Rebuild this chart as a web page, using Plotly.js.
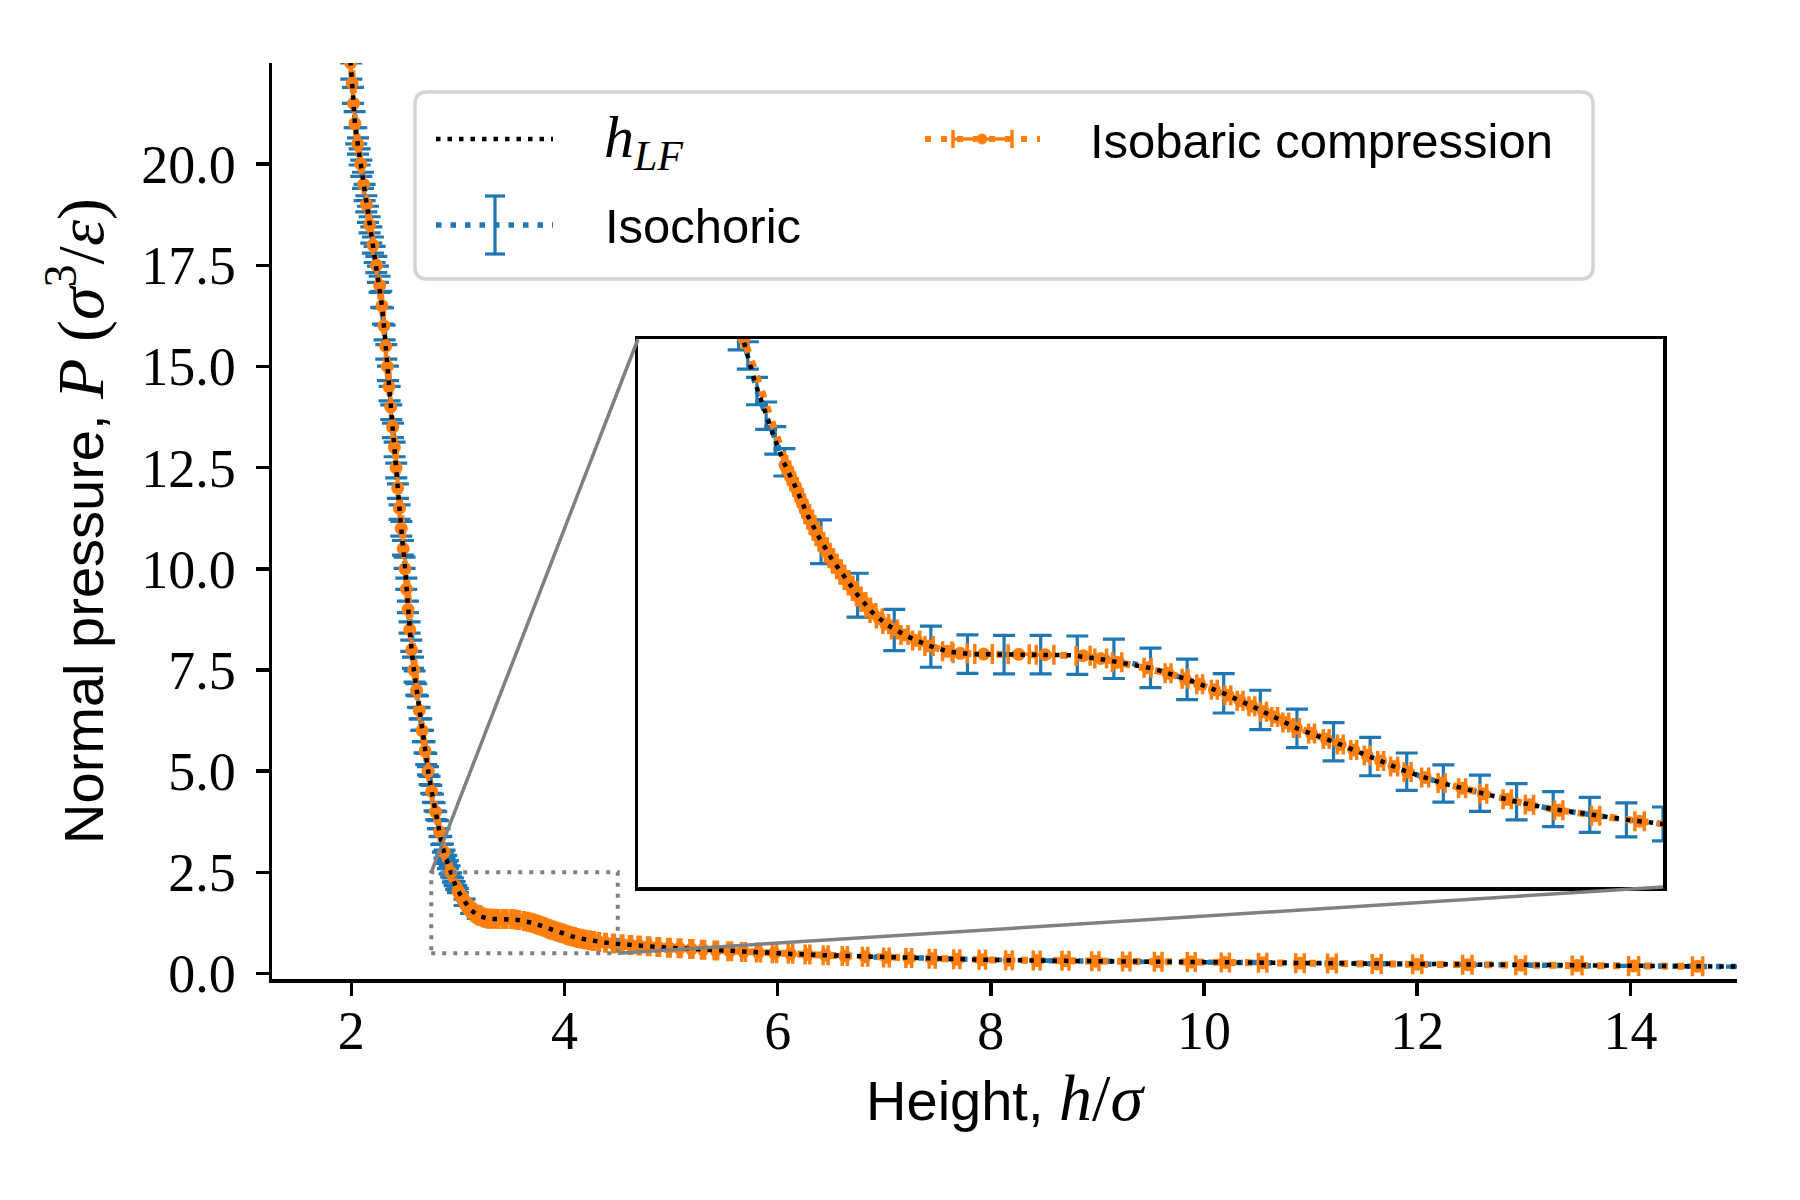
<!DOCTYPE html>
<html>
<head>
<meta charset="utf-8">
<script src="https://cdn.plot.ly/plotly-3.0.1.min.js"></script>
<style>
  html, body { margin: 0; padding: 0; background: white; }
  #plot { width: 1800px; height: 1200px; }
</style>
</head>
<body>
<div id="plot"></div>
<script>
// h_LF reference curve
const hLF = [1.97, 1.99, 2.00, 2.02, 2.035, 2.06, 2.08, 2.11, 2.14, 2.17, 2.20, 2.23, 2.26, 2.29, 2.32,
  2.35, 2.38, 2.41, 2.44, 2.47, 2.50, 2.52, 2.54, 2.56, 2.58, 2.60, 2.625, 2.65, 2.675, 2.70, 2.725,
  2.75, 2.775, 2.80, 2.825, 2.85, 2.875, 2.90, 2.92, 2.935, 2.95, 2.965, 2.98, 3.00, 3.02, 3.04, 3.06,
  3.08, 3.10, 3.125, 3.15, 3.175, 3.21, 3.245, 3.28, 3.32, 3.40, 3.49, 3.545, 3.59, 3.63, 3.69, 3.75,
  3.81, 3.875, 3.94, 4.00, 4.06, 4.125, 4.19, 4.25, 4.31, 4.375, 4.44, 4.50, 4.75, 5.0, 5.5, 6.0, 6.5,
  7.0, 7.5, 8.0, 9.0, 10.0, 11.0, 12.0, 13.0, 14.0, 15.0];
const pLF = [23.4, 22.65, 22.3, 21.55, 20.95, 20.5, 20.15, 19.6, 19.05, 18.53, 18.05, 17.6, 17.12, 16.45, 15.6,
  14.6, 13.72, 12.82, 11.82, 10.95, 10.15, 9.4, 8.75, 8.15, 7.63, 7.24, 6.73, 6.28, 5.82, 5.36, 4.93,
  4.55, 4.2, 3.86, 3.52, 3.2, 2.95, 2.74, 2.57, 2.455, 2.34, 2.245, 2.155, 2.045, 1.955, 1.855, 1.772,
  1.70, 1.637, 1.565, 1.502, 1.457, 1.414, 1.382, 1.359, 1.35, 1.348, 1.346, 1.33, 1.311, 1.297, 1.256, 1.207,
  1.148, 1.079, 1.028, 0.976, 0.923, 0.878, 0.842, 0.811, 0.785, 0.763, 0.745, 0.730, 0.68, 0.635, 0.556, 0.50, 0.445,
  0.40, 0.362, 0.335, 0.303, 0.28, 0.25, 0.227, 0.205, 0.187, 0.17];

// Isochoric runs (with pressure error bars)
const hIsoDense = [2.0, 2.015625, 2.03125, 2.046875, 2.0625, 2.078125, 2.09375, 2.109375, 2.125, 2.140625,
  2.15625, 2.171875, 2.1875, 2.203125, 2.21875, 2.234375, 2.25, 2.265625, 2.28125, 2.296875, 2.3125,
  2.328125, 2.34375, 2.359375, 2.375, 2.390625, 2.40625, 2.421875, 2.4375, 2.453125, 2.46875, 2.484375,
  2.5, 2.515625, 2.53125, 2.546875, 2.5625, 2.578125, 2.59375, 2.609375, 2.625, 2.640625, 2.65625,
  2.671875, 2.6875, 2.703125, 2.71875, 2.734375, 2.75, 2.765625, 2.78125, 2.796875, 2.8125, 2.828125,
  2.84375, 2.859375, 2.875, 2.890625, 2.90625, 2.921875, 2.9375, 2.953125, 2.96875, 2.984375, 3.0];
const pIsoDense = [22.3, 21.7, 21.1, 20.7, 20.45, 20.18, 19.9, 19.6, 19.3, 19.02,
  18.76, 18.5, 18.25, 18.0, 17.77, 17.52, 17.28, 17.03, 16.66, 16.25, 15.84,
  15.36, 14.83, 14.33, 13.87, 13.42, 12.95, 12.43, 11.92, 11.4, 10.99, 10.52,
  10.15, 9.63, 9.06, 8.55, 8.1, 7.68, 7.34, 7.02, 6.72, 6.43, 6.15,
  5.87, 5.59, 5.3, 5.01, 4.77, 4.55, 4.33, 4.12, 3.9, 3.68, 3.48,
  3.29, 3.1, 2.95, 2.82, 2.69, 2.56, 2.44, 2.31, 2.22, 2.13, 2.05];
const errIsoDense = [0.2, 0.2, 0.2, 0.2, 0.2, 0.2, 0.2, 0.2, 0.2, 0.2,
  0.2, 0.2, 0.2, 0.2, 0.2, 0.2, 0.2, 0.2, 0.2, 0.2, 0.18,
  0.18, 0.18, 0.18, 0.18, 0.18, 0.18, 0.18, 0.18, 0.18, 0.18, 0.18,
  0.14, 0.14, 0.14, 0.14, 0.14, 0.14, 0.14, 0.14, 0.14, 0.14, 0.14,
  0.14, 0.14, 0.14, 0.1, 0.1, 0.1, 0.1, 0.1, 0.1, 0.1, 0.1,
  0.1, 0.1, 0.1, 0.1, 0.1, 0.1, 0.05, 0.05, 0.05, 0.05, 0.05];

const hIsoMid = [3.0625, 3.125, 3.1875, 3.25, 3.3125, 3.375, 3.4375, 3.5, 3.5625, 3.625, 3.6875, 3.75,
  3.8125, 3.875, 3.9375, 4.0, 4.0625, 4.125, 4.1875, 4.25, 4.3125, 4.375, 4.4375, 4.5];
const pIsoMid = [1.76, 1.565, 1.438, 1.377, 1.35, 1.348, 1.348, 1.346, 1.333, 1.30, 1.258, 1.207,
  1.146, 1.079, 1.03, 0.976, 0.921, 0.878, 0.842, 0.811, 0.784, 0.763, 0.745, 0.73];
const errIsoMid = [0.08, 0.08, 0.075, 0.075, 0.07, 0.07, 0.07, 0.07, 0.072, 0.072, 0.074, 0.072,
  0.072, 0.07, 0.07, 0.07, 0.068, 0.068, 0.066, 0.066, 0.064, 0.064, 0.062, 0.062];

const hIsoTail = [5.0, 5.5, 6.0, 6.5, 7.0, 7.5, 8.0, 8.5, 9.0, 9.5, 10.0, 10.5, 11.0, 11.5, 12.0,
  12.5, 13.0, 13.5, 14.0, 14.5, 15.0];
const pIsoTail = [0.635, 0.556, 0.50, 0.445, 0.40, 0.362, 0.335, 0.318, 0.303, 0.29, 0.28, 0.265, 0.25, 0.238, 0.227,
  0.216, 0.205, 0.196, 0.187, 0.178, 0.17];
const errIsoTail = [0.03, 0.028, 0.026, 0.024, 0.022, 0.02, 0.02, 0.018, 0.018, 0.016, 0.016, 0.015, 0.015, 0.014, 0.014,
  0.013, 0.013, 0.012, 0.012, 0.012, 0.012];

// Isobaric compression (with height error bars)
const hBarSteep = [1.967, 1.98, 1.993, 2.008, 2.021, 2.034, 2.06, 2.089, 2.115, 2.143, 2.172, 2.203, 2.237,
  2.266, 2.288, 2.306, 2.323, 2.338, 2.353, 2.37, 2.387, 2.404, 2.42, 2.435, 2.451, 2.468, 2.487, 2.504,
  2.517, 2.532, 2.548, 2.566, 2.587, 2.612, 2.638, 2.665, 2.692, 2.721, 2.754, 2.79, 2.827, 2.87, 2.931];
const pBarSteep = [23.5, 23.0, 22.5, 22.0, 21.5, 21.0, 20.5, 20.0, 19.5, 19.0, 18.5, 18.0, 17.5,
  17.0, 16.5, 16.0, 15.5, 15.0, 14.5, 14.0, 13.5, 13.0, 12.5, 12.0, 11.5, 11.0, 10.5, 10.0,
  9.5, 9.0, 8.5, 8.0, 7.5, 7.0, 6.5, 6.0, 5.5, 5.0, 4.5, 4.0, 3.5, 3.0, 2.5];
const errBarSteep = [0.002, 0.002, 0.002, 0.002, 0.002, 0.002, 0.002, 0.002, 0.002, 0.002, 0.002, 0.002, 0.002,
  0.002, 0.002, 0.002, 0.002, 0.002, 0.002, 0.002, 0.002, 0.002, 0.002, 0.002, 0.002, 0.002, 0.002, 0.002,
  0.002, 0.002, 0.002, 0.002, 0.002, 0.002, 0.002, 0.002, 0.002, 0.002, 0.003, 0.003, 0.003, 0.003, 0.003];

const hBarKnee = [3.001, 3.006, 3.010, 3.014, 3.019, 3.023, 3.027, 3.031, 3.035, 3.039, 3.044, 3.048,
  3.053, 3.058, 3.063, 3.069, 3.074, 3.080, 3.086, 3.093, 3.099, 3.106, 3.113, 3.12, 3.127, 3.135,
  3.143, 3.151, 3.162, 3.173, 3.188, 3.205, 3.225, 3.247, 3.278];
const pBarKnee = [2.04, 2.02, 2.00, 1.98, 1.96, 1.94, 1.92, 1.90, 1.88, 1.86, 1.84, 1.82,
  1.80, 1.78, 1.76, 1.74, 1.72, 1.70, 1.68, 1.66, 1.64, 1.62, 1.60, 1.58, 1.56, 1.54,
  1.52, 1.50, 1.48, 1.46, 1.44, 1.42, 1.40, 1.38, 1.36];
const errBarKnee = [0.003, 0.003, 0.003, 0.003, 0.003, 0.003, 0.003, 0.003, 0.003, 0.004, 0.004, 0.004,
  0.004, 0.004, 0.004, 0.004, 0.004, 0.004, 0.004, 0.004, 0.004, 0.004, 0.004, 0.004, 0.004, 0.004,
  0.004, 0.005, 0.005, 0.005, 0.005, 0.006, 0.006, 0.007, 0.008];

const hBarFlat = [3.30, 3.34, 3.40, 3.445, 3.51, 3.54];
const pBarFlat = [1.353, 1.350, 1.349, 1.348, 1.344, 1.334];
const errBarFlat = [0.012, 0.015, 0.018, 0.015, 0.012, 0.01];

const hBarDrop = [3.568, 3.62, 3.655, 3.684, 3.709, 3.734, 3.757, 3.778, 3.798, 3.818, 3.837, 3.856,
  3.874, 3.90, 3.925, 3.949, 3.972, 3.995, 4.018, 4.041, 4.064, 4.094, 4.122, 4.157, 4.193, 4.234,
  4.272, 4.322, 4.385, 4.46, 4.54];
const pBarDrop = [1.32, 1.30, 1.28, 1.26, 1.24, 1.22, 1.20, 1.18, 1.16, 1.14, 1.12, 1.10,
  1.08, 1.06, 1.04, 1.02, 1.00, 0.98, 0.96, 0.94, 0.92, 0.90, 0.88, 0.86, 0.84, 0.82,
  0.80, 0.78, 0.76, 0.74, 0.72];
const errBarDrop = [0.008, 0.006, 0.005, 0.005, 0.005, 0.005, 0.005, 0.005, 0.005, 0.005, 0.005, 0.005,
  0.005, 0.005, 0.005, 0.005, 0.005, 0.005, 0.005, 0.006, 0.006, 0.006, 0.006, 0.006, 0.006, 0.007,
  0.007, 0.007, 0.007, 0.008, 0.008];

const hBarTail = [4.62, 4.70, 4.79, 4.88, 4.98, 5.08, 5.19, 5.30, 5.42, 5.55, 5.68, 5.82, 5.97, 6.12,
  6.28, 6.45, 6.63, 6.82, 7.02, 7.23, 7.45, 7.68, 7.92, 8.17, 8.43, 8.70, 8.98, 9.27, 9.57, 9.88,
  10.2, 10.55, 10.9, 11.2, 11.62, 12.0, 12.47, 12.97, 13.5, 14.03, 14.63];
const pBarTail = [0.705, 0.69, 0.673, 0.657, 0.639, 0.622, 0.604, 0.587, 0.568, 0.55, 0.533, 0.517, 0.503, 0.488,
  0.47, 0.45, 0.432, 0.415, 0.398, 0.382, 0.364, 0.35, 0.338, 0.33, 0.32, 0.312, 0.304, 0.296, 0.288, 0.282,
  0.274, 0.265, 0.255, 0.245, 0.236, 0.227, 0.217, 0.206, 0.196, 0.187, 0.176];
const errBarTail = [0.01, 0.01, 0.011, 0.012, 0.012, 0.013, 0.014, 0.015, 0.016, 0.017, 0.018, 0.019, 0.02, 0.021,
  0.022, 0.023, 0.024, 0.025, 0.026, 0.027, 0.028, 0.029, 0.03, 0.031, 0.032, 0.033, 0.034, 0.035, 0.036, 0.037,
  0.038, 0.039, 0.04, 0.041, 0.042, 0.043, 0.044, 0.045, 0.046, 0.047, 0.048];

const xTicks = [2, 4, 6, 8, 10, 12, 14];
const yTicks = [0, 2.5, 5, 7.5, 10, 12.5, 15, 17.5, 20];

// ---- geometry (pixels in the 1800x1200 figure) ----
const W = 1800, H = 1200;
const L = 272, R = 1737, T = 63, B = 979;
const xRange = [1.256, 15.0], yRange = [-0.136, 22.5];
const zoomX = [2.75, 4.5], zoomY = [0.5, 2.5];
const inset = {l: 638, r: 1663, t: 339, b: 887};

const BLUE = '#1f77b4', ORANGE = '#ff7f0e';
const SERIF = 'Liberation Serif', SANS = 'Liberation Sans';

function px(x) { return (x - L) / (R - L); }
function py(y) { return (B - y) / (B - T); }
function dataToPaper(x, y) {
  return [(x - xRange[0]) / (xRange[1] - xRange[0]), (y - yRange[0]) / (yRange[1] - yRange[0])];
}

const hIso = hIsoDense.concat(hIsoMid, hIsoTail);
const pIso = pIsoDense.concat(pIsoMid, pIsoTail);
const errIso = errIsoDense.concat(errIsoMid, errIsoTail);
const hBar = hBarSteep.concat(hBarKnee, hBarFlat, hBarDrop, hBarTail);
const pBar = pBarSteep.concat(pBarKnee, pBarFlat, pBarDrop, pBarTail);
const errBar = errBarSteep.concat(errBarKnee, errBarFlat, errBarDrop, errBarTail);

function makeTraces(xa, ya) {
  return [
    {
      x: hIso, y: pIso, xaxis: xa, yaxis: ya,
      type: 'scatter', mode: 'lines', name: 'Isochoric', showlegend: false,
      line: {color: BLUE, width: 5.5, dash: '5.5px,9px'},
      error_y: {type: 'data', array: errIso, visible: true, color: BLUE, thickness: 3.2, width: 11}
    },
    {
      x: hBar, y: pBar, xaxis: xa, yaxis: ya,
      type: 'scatter', mode: 'lines+markers', name: 'Isobaric compression', showlegend: false,
      line: {color: ORANGE, width: 7, dash: '7px,9px'},
      marker: {color: ORANGE, size: 13},
      error_x: {type: 'data', array: errBar, visible: true, color: ORANGE, thickness: 3.5, width: 10}
    },
    {
      x: hLF, y: pLF, xaxis: xa, yaxis: ya,
      type: 'scatter', mode: 'lines', name: 'h_LF', showlegend: false,
      line: {color: 'black', width: 4.5, dash: '4.5px,7px'}
    }
  ];
}

const traces = makeTraces('x', 'y').concat(makeTraces('x2', 'y2'));

// zoom indicator and connectors
const cTL = dataToPaper(zoomX[0], zoomY[1]);
const cBR = dataToPaper(zoomX[1], zoomY[0]);
const shapes = [
  {type: 'rect', xref: 'x', yref: 'y', x0: zoomX[0], x1: zoomX[1], y0: zoomY[0], y1: zoomY[1],
   line: {color: '#808080', width: 4, dash: '4px,7px'}},
  {type: 'line', xref: 'paper', yref: 'paper', x0: cTL[0], y0: cTL[1], x1: px(inset.l), y1: py(inset.t),
   line: {color: '#808080', width: 3.5}},
  {type: 'line', xref: 'paper', yref: 'paper', x0: cBR[0], y0: cBR[1], x1: px(inset.r), y1: py(inset.b),
   line: {color: '#808080', width: 3.5}}
];

// legend frame (rounded box)
const lg = {l: 415, r: 1593, t: 92, b: 279, rad: 12};
(function () {
  const x0 = px(lg.l), x1 = px(lg.r), yT = py(lg.t), yB = py(lg.b);
  const rx = lg.rad / (R - L), ry = lg.rad / (B - T);
  const path = `M${x0 + rx},${yT} L${x1 - rx},${yT} Q${x1},${yT} ${x1},${yT - ry} ` +
    `L${x1},${yB + ry} Q${x1},${yB} ${x1 - rx},${yB} L${x0 + rx},${yB} Q${x0},${yB} ${x0},${yB + ry} ` +
    `L${x0},${yT - ry} Q${x0},${yT} ${x0 + rx},${yT} Z`;
  shapes.push({type: 'path', xref: 'paper', yref: 'paper', path: path,
    fillcolor: 'white', line: {color: '#d4d4d4', width: 3.5}});
})();

function seg(x0, y0, x1, y1, color, width, dash) {
  return {type: 'line', xref: 'paper', yref: 'paper', x0: px(x0), y0: py(y0), x1: px(x1), y1: py(y1),
    line: {color: color, width: width, dash: dash || 'solid'}};
}
// legend keys
shapes.push(seg(436, 139, 553, 139, 'black', 4.5, '4.5px,7px'));
shapes.push(seg(436, 225, 553, 225, BLUE, 5.5, '5.5px,9px'));
shapes.push(seg(495, 196, 495, 254, BLUE, 3.2));
shapes.push(seg(485, 196, 505, 196, BLUE, 3.2));
shapes.push(seg(485, 254, 505, 254, BLUE, 3.2));
shapes.push(seg(925, 139, 1040, 139, ORANGE, 6, '6px,10px'));
shapes.push(seg(953, 139, 1012, 139, ORANGE, 3.5));
shapes.push(seg(953, 130, 953, 148, ORANGE, 3.5));
shapes.push(seg(1012, 130, 1012, 148, ORANGE, 3.5));
shapes.push({type: 'circle', xref: 'paper', yref: 'paper', x0: px(977), x1: px(987), y0: py(134), y1: py(144),
  fillcolor: ORANGE, line: {color: ORANGE, width: 1}});

const annotations = [
  {xref: 'paper', yref: 'paper', x: px(602), y: py(141), xanchor: 'left', yanchor: 'middle', showarrow: false,
   text: '<i>h</i><sub><i>LF</i></sub>', font: {family: SERIF, size: 60, color: 'black'}},
  {xref: 'paper', yref: 'paper', x: px(603), y: py(226), xanchor: 'left', yanchor: 'middle', showarrow: false,
   text: 'Isochoric', font: {family: SANS, size: 49, color: 'black'}},
  {xref: 'paper', yref: 'paper', x: px(1088), y: py(141), xanchor: 'left', yanchor: 'middle', showarrow: false,
   text: 'Isobaric compression', font: {family: SANS, size: 49, color: 'black'}}
];

const axisCommon = {
  showline: true, linecolor: 'black', linewidth: 3.5,
  ticks: 'outside', ticklen: 13, tickwidth: 3.5, tickcolor: 'black',
  showgrid: false, zeroline: false,
  tickfont: {family: SERIF, size: 54, color: 'black'}
};

const layout = {
  width: W, height: H,
  margin: {l: L, r: W - R, t: T, b: H - B},
  paper_bgcolor: 'white', plot_bgcolor: 'white',
  showlegend: false,
  xaxis: Object.assign({}, axisCommon, {
    range: xRange, tickvals: xTicks, anchor: 'y', ticklabelstandoff: -11,
    title: {text: "Height, <span style='font-family:Liberation Serif;font-size:66px'><i>h</i>/<i>σ</i></span>",
      font: {family: SANS, size: 56, color: 'black'}, standoff: 16}
  }),
  yaxis: Object.assign({}, axisCommon, {
    range: yRange, tickvals: yTicks, tickformat: '.1f', anchor: 'x', ticklabelstandoff: 9,
    title: {text: "Normal pressure, <span style='font-family:Liberation Serif;font-size:66px'><i>P</i> (<i>σ</i><sup>3</sup>/<i>ε</i>)</span>",
      font: {family: SANS, size: 56, color: 'black'}, standoff: 20}
  }),
  xaxis2: {
    domain: [px(inset.l), px(inset.r)], range: zoomX, anchor: 'y2',
    showline: true, mirror: true, linecolor: 'black', linewidth: 3.5,
    showticklabels: false, ticks: '', showgrid: false, zeroline: false
  },
  yaxis2: {
    domain: [py(inset.b), py(inset.t)], range: zoomY, anchor: 'x2',
    showline: true, mirror: true, linecolor: 'black', linewidth: 3.5,
    showticklabels: false, ticks: '', showgrid: false, zeroline: false
  },
  shapes: shapes,
  annotations: annotations
};

Plotly.newPlot('plot', traces, layout, {displayModeBar: false, staticPlot: true});
</script>
</body>
</html>
